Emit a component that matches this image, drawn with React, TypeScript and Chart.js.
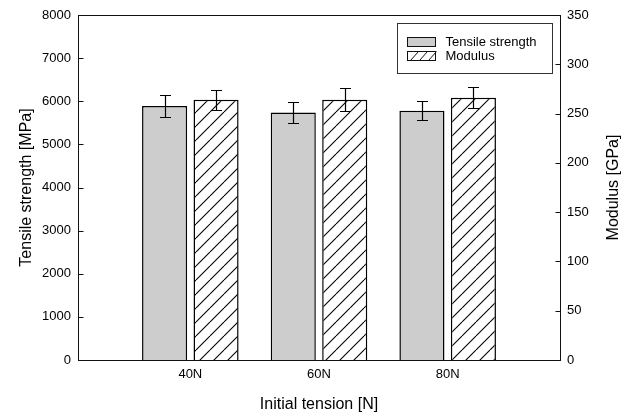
import React, { useEffect, useRef } from 'react';
import { Chart, registerables } from 'chart.js';

Chart.register(...registerables);

const categories = ['40N', '60N', '80N'];
const tensileStrength = [5890, 5740, 5780];
const tensileError = [245, 240, 215];
const modulus = [264, 264, 266];
const modulusError = [10, 11.5, 10.7];
const leftTicks = [0, 1000, 2000, 3000, 4000, 5000, 6000, 7000, 8000];
const rightTicks = [0, 50, 100, 150, 200, 250, 300, 350];

const FONT = "'Liberation Sans', Arial, sans-serif";
const GREY = '#cdcdcd';

function makeHatch(period: number): CanvasPattern | string {
  const c = document.createElement('canvas');
  c.width = period;
  c.height = period;
  const g = c.getContext('2d');
  if (!g) return '#fff';
  g.fillStyle = '#ffffff';
  g.fillRect(0, 0, period, period);
  g.strokeStyle = '#000';
  g.lineWidth = 1.1;
  for (let k = -1; k <= 1; k++) {
    g.beginPath();
    g.moveTo(k * period, period);
    g.lineTo(k * period + period, 0);
    g.stroke();
  }
  const p = g.createPattern(c, 'repeat');
  return p || '#fff';
}

const framePlugin = {
  id: 'frameAndExtras',
  afterDatasetsDraw(chart: any) {
    const ctx = chart.ctx;
    const a = chart.chartArea;
    ctx.save();
    // error bars
    ctx.strokeStyle = '#000';
    ctx.lineWidth = 1.2;
    const errs = [tensileError, modulusError];
    const vals = [tensileStrength, modulus];
    for (let d = 0; d < 2; d++) {
      const meta = chart.getDatasetMeta(d);
      const sc = chart.scales[meta.yAxisID];
      meta.data.forEach((bar: any, i: number) => {
        const x = Math.round(bar.x) + 0.5;
        const yt = Math.round(sc.getPixelForValue(vals[d][i] + errs[d][i])) + 0.5;
        const yb = Math.round(sc.getPixelForValue(vals[d][i] - errs[d][i])) + 0.5;
        ctx.beginPath();
        ctx.moveTo(x, yt);
        ctx.lineTo(x, yb);
        ctx.moveTo(x - 5.5, yt);
        ctx.lineTo(x + 5.5, yt);
        ctx.moveTo(x - 5.5, yb);
        ctx.lineTo(x + 5.5, yb);
        ctx.stroke();
      });
    }
    // frame
    ctx.strokeStyle = '#111';
    ctx.lineWidth = 1;
    const L = Math.round(a.left) + 0.5;
    const R = Math.round(a.right) + 0.5;
    const T = Math.round(a.top) + 0.5;
    const B = Math.round(a.bottom) + 0.5;
    ctx.strokeRect(L, T, R - L, B - T);
    // inward ticks
    const y = chart.scales.y;
    const y1 = chart.scales.y1;
    ctx.beginPath();
    y.ticks.forEach((t: any) => {
      const py = Math.round(y.getPixelForValue(t.value)) + 0.5;
      ctx.moveTo(L, py);
      ctx.lineTo(L + 5, py);
    });
    y1.ticks.forEach((t: any) => {
      const py = Math.round(y1.getPixelForValue(t.value)) + 0.5;
      ctx.moveTo(R, py);
      ctx.lineTo(R - 5, py);
    });
    ctx.stroke();
    // legend
    const bx = Math.round(a.right - 8) + 0.5;
    const lx = bx - 155;
    const ty = Math.round(a.top + 8) + 0.5;
    ctx.strokeStyle = '#333';
    ctx.strokeRect(lx, ty, 155, 50);
    const sx = lx + 10;
    ctx.fillStyle = GREY;
    ctx.fillRect(sx, ty + 14, 28, 9);
    ctx.strokeStyle = '#111';
    ctx.strokeRect(sx, ty + 14, 28, 9);
    ctx.fillStyle = '#fff';
    ctx.fillRect(sx, ty + 28, 28, 9);
    ctx.strokeRect(sx, ty + 28, 28, 9);
    ctx.beginPath();
    for (let k = 0; k < 3; k++) {
      const x0 = sx + 3 + k * 9;
      ctx.moveTo(x0, ty + 37);
      ctx.lineTo(x0 + 8, ty + 28);
    }
    ctx.stroke();
    ctx.fillStyle = '#000';
    ctx.font = `13px ${FONT}`;
    ctx.textAlign = 'left';
    ctx.textBaseline = 'middle';
    ctx.fillText('Tensile strength', sx + 38, ty + 18.5);
    ctx.fillText('Modulus', sx + 38, ty + 33);
    // right axis title (reads bottom to top)
    ctx.font = `16px ${FONT}`;
    ctx.textAlign = 'center';
    ctx.translate(614, (a.top + a.bottom) / 2);
    ctx.rotate(-Math.PI / 2);
    ctx.fillText('Modulus [GPa]', 0, 0);
    ctx.restore();
  },
};

export default function App() {
  const ref = useRef<HTMLCanvasElement | null>(null);
  useEffect(() => {
    if (!ref.current) return;
    Chart.defaults.font.family = FONT;
    Chart.defaults.color = '#000';
    const hatch = makeHatch(14);
    const chart = new Chart(ref.current, {
      type: 'bar',
      data: {
        datasets: [
          {
            label: 'Tensile strength',
            data: categories.map((_, i) => ({ x: i, y: tensileStrength[i] })),
            backgroundColor: GREY,
            borderColor: '#000',
            borderWidth: 1.5,
            yAxisID: 'y',
            categoryPercentage: 0.8,
            barPercentage: 0.876,
          },
          {
            label: 'Modulus',
            data: categories.map((_, i) => ({ x: i, y: modulus[i] })),
            backgroundColor: hatch as any,
            borderColor: '#000',
            borderWidth: 1.5,
            yAxisID: 'y1',
            categoryPercentage: 0.8,
            barPercentage: 0.876,
          },
        ],
      } as any,
      options: {
        animation: false,
        responsive: false,
        maintainAspectRatio: false,
        layout: { padding: { top: 15, left: 0, right: 0, bottom: 0 } },
        plugins: { legend: { display: false }, tooltip: { enabled: false } },
        scales: {
          x: {
            type: 'linear',
            min: -0.873,
            max: 2.873,
            offset: false,
            bounds: 'data',
            grid: { display: false, drawTicks: false, offset: false },
            border: { display: false },
            afterBuildTicks: (s: any) => {
              s.ticks = categories.map((_, i) => ({ value: i }));
            },
            afterFit: (s: any) => {
              s.height = 54;
            },
            ticks: {
              autoSkip: false,
              maxRotation: 0,
              padding: 7,
              font: { size: 13 },
              callback: (v: any) => categories[v] ?? '',
            },
            title: {
              display: true,
              text: 'Initial tension [N]',
              font: { size: 16 },
              padding: { top: 0, bottom: 0 },
            },
          },
          y: {
            type: 'linear',
            position: 'left',
            min: 0,
            max: 8000,
            grid: { display: false, drawTicks: false },
            border: { display: false },
            afterBuildTicks: (s: any) => {
              s.ticks = leftTicks.map((v) => ({ value: v }));
            },
            afterFit: (s: any) => {
              s.width = 78;
            },
            ticks: { padding: 7, font: { size: 13 }, callback: (v: any) => String(v) },
            title: {
              display: true,
              text: 'Tensile strength [MPa]',
              font: { size: 16 },
              padding: { top: 17, bottom: 0 },
            },
          },
          y1: {
            type: 'linear',
            position: 'right',
            min: 0,
            max: 350,
            grid: { display: false, drawTicks: false },
            border: { display: false },
            afterBuildTicks: (s: any) => {
              s.ticks = rightTicks.map((v) => ({ value: v }));
            },
            afterFit: (s: any) => {
              s.width = 68;
            },
            ticks: { padding: 7, font: { size: 13 }, callback: (v: any) => String(v) },
          },
        },
      } as any,
      plugins: [framePlugin],
    });
    return () => chart.destroy();
  }, []);
  return (
    <div style={{ position: 'fixed', left: 0, top: 0, width: 628, height: 414, background: '#fff' }}>
      <canvas ref={ref} width={628} height={414} style={{ width: 628, height: 414 }} />
    </div>
  );
}
